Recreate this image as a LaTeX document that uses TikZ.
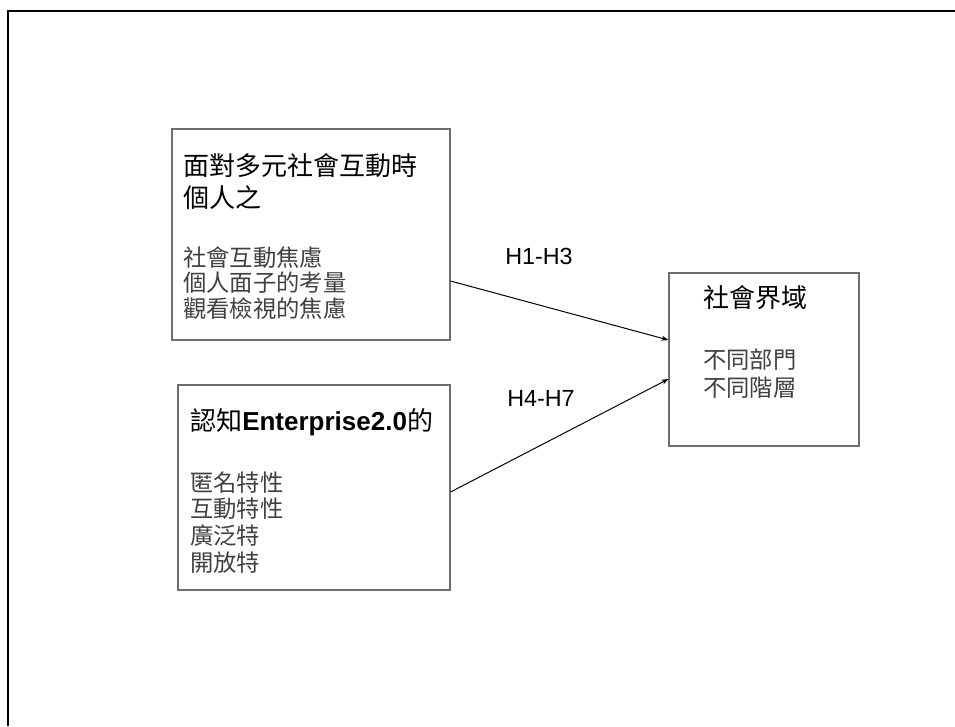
\documentclass[tikz,border=0pt]{standalone}
\usepackage{fontspec}
\setmainfont{Liberation Sans}
\newfontfamily\cjk{Noto Sans CJK TC}
\usetikzlibrary{arrows.meta}
\definecolor{bodygray}{RGB}{64,64,64}
\definecolor{boxgray}{RGB}{110,110,110}
\begin{document}
\begin{tikzpicture}[x=0.75pt,y=-0.75pt,
  box/.style={draw=boxgray, line width=0.8pt, inner sep=0pt},
  titletext/.style={anchor=base west, inner sep=0pt, text=black, font=\fontsize{19.5pt}{24pt}\selectfont\cjk},
  bodytext/.style={anchor=base west, inner sep=0pt, text=bodygray, font=\fontsize{17.5pt}{20pt}\selectfont\cjk},
  hyplabel/.style={anchor=base west, inner sep=0pt, text=black, font=\fontsize{17.5pt}{20pt}\selectfont},
  link/.style={draw=black, line width=0.75pt, -{Stealth[length=5.25pt,width=3.75pt]}}]
\useasboundingbox (0,0) rectangle (955,726);
% outer frame
\coordinate (frameBL) at (8,726);
\coordinate (frameTL) at (8,11);
\coordinate (frameTR) at (955,11);
\draw[line width=1.5pt, black] (frameBL) -- (frameTL) -- (frameTR);
% boxes
\node[box, minimum width=208.5pt, minimum height=158.25pt] (b1) at (311,234.5) {};
\node[box, minimum width=204pt, minimum height=153.75pt] (b2) at (314,487.5) {};
\node[box, minimum width=142.5pt, minimum height=129.75pt] (b3) at (764,359.5) {};
% box 1 text
\node[titletext] (t1a) at (183,175) {面對多元社會互動時};
\node[titletext] (t1b) at (183,207) {個人之};
\node[bodytext] (s1a) at (183,266) {社會互動焦慮};
\node[bodytext] (s1b) at (183,291.5) {個人面子的考量};
\node[bodytext] (s1c) at (183,317) {觀看檢視的焦慮};
% box 2 text
\node[titletext] (t2) at (190,430) {認知{\fontspec{Liberation Sans}\bfseries Enterprise2.0}的};
\node[bodytext] (s2a) at (190,491) {匿名特性};
\node[bodytext] (s2b) at (190,517.5) {互動特性};
\node[bodytext] (s2c) at (190,544) {廣泛特};
\node[bodytext] (s2d) at (190,571) {開放特};
% box 3 text
\node[titletext] (t3) at (703,307) {社會界域};
\node[bodytext] (s3a) at (703,368) {不同部門};
\node[bodytext] (s3b) at (703,396) {不同階層};
% labels
\node[hyplabel] (h1) at (505,264.5) {H1-H3};
\node[hyplabel] (h2) at (507,406.5) {H4-H7};
% connectors
\draw[link] ([yshift=-34.875pt]b1.east) -- ([yshift=14.625pt]b3.west);
\draw[link] ([yshift=-3.375pt]b2.east) -- ([yshift=-14.625pt]b3.west);
\end{tikzpicture}
\end{document}
